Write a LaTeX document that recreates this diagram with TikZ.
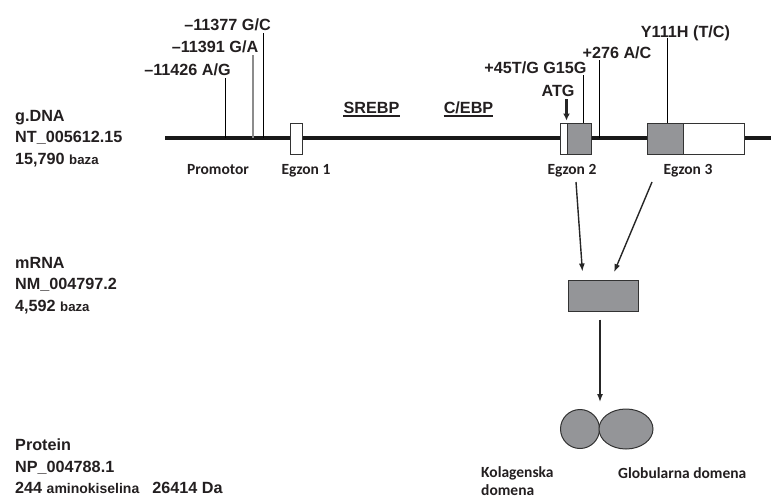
\documentclass[tikz,border=0pt]{standalone}
\usepackage{fontspec}
\setmainfont{Liberation Sans}
\newfontfamily\calibrifont{Carlito}
\usetikzlibrary{arrows.meta,shapes.geometric}
\definecolor{egzonsiva}{RGB}{148,149,152}
\definecolor{tinta}{RGB}{35,31,32}
\newcommand{\sitno}[2][13.2]{{\fontsize{#1}{#1}\selectfont #2}}

\begin{document}
\begin{tikzpicture}[x=1pt, y=-1pt,
    natpis/.style={font=\bfseries\fontsize{16.2}{21.5}\selectfont, text=tinta, inner sep=0pt},
    oznaka/.style={font=\calibrifont\bfseries\fontsize{15.5}{18}\selectfont, text=tinta, inner sep=0pt},
    egzon/.style={draw=black!80, line width=1pt, minimum height=31pt, inner sep=0pt},
    siva/.style={draw=black!80, line width=1pt, fill=egzonsiva, inner sep=0pt},
    snp/.style={draw=black, line width=0.9pt},
    strelica/.style={draw=black!85, line width=1.4pt, -{Latex[length=8pt,width=6pt]}}]

    \useasboundingbox (0,0) rectangle (771,498);

    % 绘制左侧标签
    \node[natpis, align=left, anchor=north west] (gdna) at (15,110) {g.DNA\\NT\_005612.15\\15,790 \sitno{baza}};
    \node[natpis, align=left, anchor=north west] (mrnalbl) at (15,256.7) {mRNA\\NM\_004797.2\\4,592 \sitno{baza}};
    \node[natpis, align=left, anchor=north west] (protlbl) at (15,439) {Protein\\NP\_004788.1\\244 \sitno[14]{aminokiselina}\hspace{13pt}26414 Da};

    % 绘制 DNA 主线
    \coordinate (dnaL) at (165,138);
    \coordinate (dnaR) at (771,138);
    \draw[line width=4pt, black!90] (dnaL) -- (dnaR);

    % 绘制启动子区域的 SNP
    \coordinate (m1) at (225,138);
    \coordinate (m2) at (253,138);
    \coordinate (m3) at (263,138);
    \node[natpis, anchor=base] (s1) at (187.5,75) {–11426 A/G};
    \node[natpis, anchor=base] (s2) at (215,52.3) {–11391 G/A};
    \node[natpis, anchor=base] (s3) at (227.5,30) {–11377 G/C};
    \draw[snp, shorten <=3pt] (s1.base -| m1) -- (m1);
    \draw[snp, black!45, line width=1.3pt, shorten <=3pt] (s2.base -| m2) -- (m2);
    \draw[snp, shorten <=3pt] (s3.base -| m3) -- (m3);

    % 绘制转录因子结合位点
    \node[natpis, anchor=base] (srebp) at (371.5,113) {SREBP};
    \node[natpis, anchor=base] (cebp) at (468.5,113) {C/EBP};
    \draw[line width=1.6pt, tinta] ([yshift=-3pt]srebp.base west) -- ([yshift=-3pt]srebp.base east);
    \draw[line width=1.6pt, tinta] ([yshift=-3pt]cebp.base west) -- ([yshift=-3pt]cebp.base east);

    % 绘制外显子
    \node[egzon, fill=white, minimum width=12pt] (e1) at (296,138.5) {};
    \node[egzon, fill=white, minimum width=7pt] (e2a) at (564,138.5) {};
    \node[egzon, fill=egzonsiva, minimum width=24pt] (e2) at (579,138.5) {};
    \node[egzon, fill=egzonsiva, minimum width=36pt] (e3) at (665,138.5) {};
    \node[egzon, fill=white, minimum width=61pt] (e3b) at (713.5,138.5) {};

    % 绘制外显子上的 SNP 与 ATG
    \coordinate (m45) at (583,123);
    \coordinate (m276) at (599,138);
    \coordinate (m111) at (667,123);
    \node[natpis, anchor=base] (atg) at (558,96.7) {ATG};
    \node[natpis, anchor=base] (s45) at (535.5,73.3) {+45T/G G15G};
    \node[natpis, anchor=base] (s276) at (617,58.3) {+276 A/C};
    \node[natpis, anchor=base] (s111) at (685.5,37.7) {Y111H (T/C)};
    \draw[black!85, line width=2.2pt, -{Latex[length=7pt,width=7pt]}, shorten <=2.5pt, shorten >=2pt] (atg.base -| e2.west) -- (e2.north west);
    \draw[snp, shorten <=2pt] (s45.base -| m45) -- (m45);
    \draw[snp, shorten <=2pt] (s276.base -| m276) -- (m276);
    \draw[snp] (s111.base -| m111) -- (m111);

    % 区域名称
    \node[oznaka, anchor=base] (promotor) at (218,174) {Promotor};
    \node[oznaka, anchor=base] (lbl1) at (306,174) {Egzon 1};
    \node[oznaka, anchor=base] (lbl2) at (572,174) {Egzon 2};
    \node[oznaka, anchor=base] (lbl3) at (688,174) {Egzon 3};

    % 绘制 mRNA 与蛋白质
    \node[siva, minimum width=70pt, minimum height=31pt] (mrna) at (603,295.5) {};
    \node[siva, circle, minimum size=39pt] (kol) at (580,429) {};
    \node[siva, ellipse, minimum width=54pt, minimum height=40pt] (glob) at (626,429) {};

    % 绘制箭头
    \coordinate (izE2) at (576,182);
    \coordinate (izE3) at (652,182);
    \draw[strelica, shorten >=8pt] (izE2) -- ([xshift=-20pt]mrna.north);
    \draw[strelica, shorten >=8pt] (izE3) -- ([xshift=8pt]mrna.north);
    \draw[strelica, shorten <=8pt, shorten >=7pt] (mrna.south -| kol.east) -- (kol.east |- kol.north);

    % 蛋白质结构域
    \node[oznaka, align=left, anchor=north west] (kollbl) at (481,466.5) {Kolagenska\\domena};
    \node[oznaka, anchor=base west] (globlbl) at (618,478.3) {Globularna domena};
\end{tikzpicture}
\end{document}
